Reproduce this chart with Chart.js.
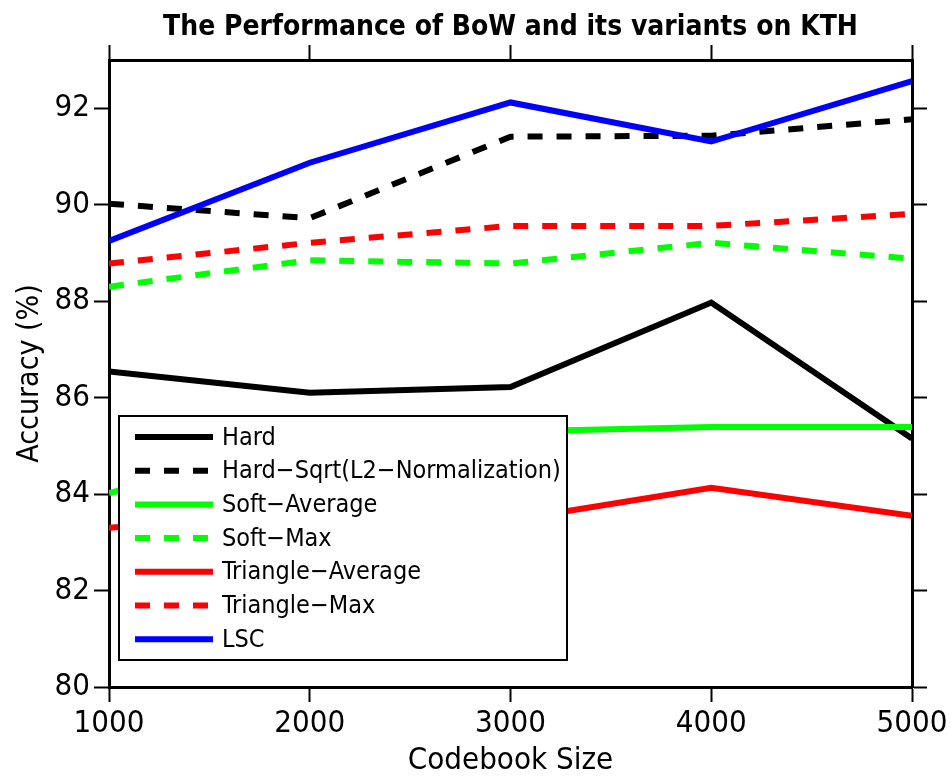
<!DOCTYPE html>
<html>
<head>
<meta charset="utf-8">
<script src="https://cdn.jsdelivr.net/npm/chart.js@4.4.1/dist/chart.umd.min.js"></script>
<style>
  html, body { margin: 0; padding: 0; background: #fff; }
  #wrap { width: 951px; height: 780px; }
</style>
</head>
<body>
<div id="wrap"><canvas id="bowChart" width="951" height="780"></canvas></div>
<script>
// Data
const codebookSizes = [1000, 2000, 3000, 4000, 5000];
const hardAcc = [86.54, 86.10, 86.22, 87.97, 85.15];
const hardSqrtAcc = [90.02, 89.72, 91.41, 91.43, 91.77];
const softAvgAcc = [84.02, 85.10, 85.30, 85.39, 85.39];
const softMaxAcc = [88.30, 88.85, 88.78, 89.21, 88.88];
const triAvgAcc = [83.30, 83.60, 83.46, 84.13, 83.55];
const triMaxAcc = [88.78, 89.21, 89.56, 89.56, 89.81];
const lscAcc = [89.25, 90.87, 92.12, 91.31, 92.56];
const yTicks = [80, 82, 84, 86, 88, 90, 92];

const FONT = "'DejaVu Sans Condensed', 'Liberation Sans', sans-serif";

function makeSeries(label, values, color, dashed, order) {
    return {
        label: label,
        data: values.map((v, i) => ({ x: codebookSizes[i], y: v })),
        borderColor: color,
        backgroundColor: color,
        borderWidth: 6,
        borderDash: dashed ? [15, 14] : [],
        pointRadius: 0,
        tension: 0,
        fill: false,
        order: order
    };
}

const datasets = [
    makeSeries('Hard', hardAcc, '#000000', false, 6),
    makeSeries('Hard\u2212Sqrt(L2\u2212Normalization)', hardSqrtAcc, '#000000', true, 5),
    makeSeries('Soft\u2212Average', softAvgAcc, '#00ff00', false, 4),
    makeSeries('Soft\u2212Max', softMaxAcc, '#00ff00', true, 3),
    makeSeries('Triangle\u2212Average', triAvgAcc, '#ff0000', false, 2),
    makeSeries('Triangle\u2212Max', triMaxAcc, '#ff0000', true, 1),
    makeSeries('LSC', lscAcc, '#0000ff', false, 0)
];

// legend box drawn inside the plot, lower left (like MATLAB's)
const boxLegend = {
    id: 'boxLegend',
    afterDatasetsDraw(chart) {
        const ctx = chart.ctx;
        const area = chart.chartArea;
        const x0 = area.left + 10, y0 = area.top + 356;
        const w = 448, h = 244, rowH = 33.7;
        ctx.save();
        ctx.fillStyle = '#fff';
        ctx.fillRect(x0, y0, w, h);
        ctx.strokeStyle = '#000';
        ctx.lineWidth = 2;
        ctx.strokeRect(x0, y0, w, h);
        ctx.font = '25px ' + FONT;
        ctx.textBaseline = 'middle';
        chart.data.datasets.forEach((ds, i) => {
            const cy = y0 + 21 + i * rowH;
            ctx.beginPath();
            ctx.setLineDash(ds.borderDash);
            ctx.strokeStyle = ds.borderColor;
            ctx.lineWidth = 6;
            ctx.moveTo(x0 + 16, cy);
            ctx.lineTo(x0 + 94, cy);
            ctx.stroke();
            ctx.setLineDash([]);
            ctx.fillStyle = '#000';
            ctx.fillText(ds.label, x0 + 103, cy + 1);
        });
        ctx.restore();
    }
};

const tickGrid = { drawOnChartArea: false, drawTicks: true, tickLength: 15, tickWidth: 2, tickColor: '#000' };
const axisBorder = { display: true, color: '#000', width: 3 };

new Chart(document.getElementById('bowChart'), {
    type: 'line',
    data: { datasets: datasets },
    options: {
        responsive: false,
        animation: false,
        layout: { padding: 0 },
        plugins: {
            legend: { display: false },
            tooltip: { enabled: false },
            title: {
                display: true,
                fullSize: false,
                text: 'The Performance of BoW and its variants on KTH',
                color: '#000',
                font: { family: FONT, size: 28, weight: 'bold', lineHeight: 1.2 },
                padding: { top: 11, bottom: 0 }
            }
        },
        scales: {
            x: {
                type: 'linear',
                position: 'bottom',
                min: 1000, max: 5000,
                afterBuildTicks: s => { s.ticks = codebookSizes.map(v => ({ value: v })); },
                grid: tickGrid,
                border: axisBorder,
                ticks: { color: '#000', font: { family: FONT, size: 31 }, padding: 3, maxRotation: 0, callback: v => String(v) },
                title: { display: true, text: 'Codebook Size', color: '#000', font: { family: FONT, size: 31 }, padding: 0 },
                afterFit: s => { s.height = 93; }
            },
            x2: {
                type: 'linear',
                position: 'top',
                min: 1000, max: 5000,
                afterBuildTicks: s => { s.ticks = codebookSizes.map(v => ({ value: v })); },
                grid: tickGrid,
                border: axisBorder,
                ticks: { display: false },
                afterFit: s => { s.height = 60 - 44.6; }
            },
            y: {
                position: 'left',
                min: 80, max: 93,
                afterBuildTicks: s => { s.ticks = yTicks.map(v => ({ value: v })); },
                grid: tickGrid,
                border: axisBorder,
                ticks: { color: '#000', font: { family: FONT, size: 31 }, padding: 4 },
                title: { display: true, text: 'Accuracy (%)', color: '#000', font: { family: FONT, size: 30 }, padding: { top: 12, bottom: 0 } },
                afterFit: s => { s.width = 109; }
            },
            y2: {
                position: 'right',
                min: 80, max: 93,
                afterBuildTicks: s => { s.ticks = yTicks.map(v => ({ value: v })); },
                grid: tickGrid,
                border: axisBorder,
                ticks: { display: false },
                afterFit: s => { s.width = 39; }
            }
        }
    },
    plugins: [boxLegend]
});
</script>
</body>
</html>
